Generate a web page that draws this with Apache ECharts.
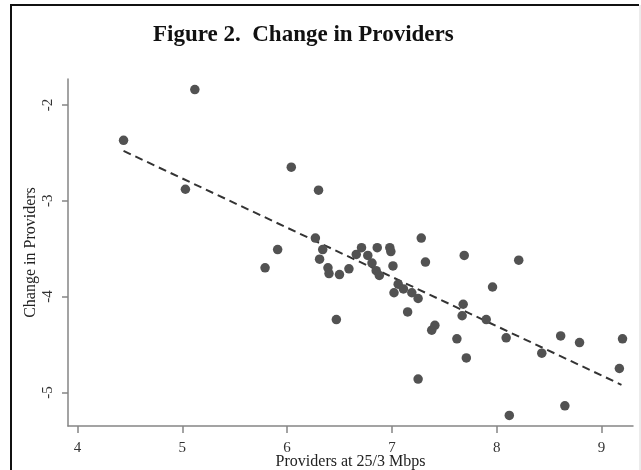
<!DOCTYPE html>
<html>
<head>
<meta charset="utf-8">
<script src="https://cdn.jsdelivr.net/npm/echarts@6/dist/echarts.min.js"></script>
<style>
  html, body { margin: 0; padding: 0; background: #fff; }
  #chart { width: 641px; height: 470px; }
</style>
</head>
<body>
<div id="chart"></div>
<script>
// providers at 25/3 Mbps (x) vs change in providers (y)
const providersX = [
  4.44, 5.12, 5.03, 6.04, 6.30, 5.91, 5.79, 6.27, 6.34, 6.31,
  6.39, 6.40, 6.50, 6.59, 6.47, 6.66, 6.71, 6.77, 6.81, 6.85,
  6.88, 6.86, 6.98, 6.99, 7.01, 7.28, 7.32, 7.69, 8.21, 7.06,
  7.02, 7.11, 7.19, 7.25, 7.15, 7.96, 7.68, 7.67, 7.90, 7.38,
  7.41, 7.62, 7.71, 7.25, 8.09, 8.43, 8.61, 8.79, 9.20, 9.17,
  8.65, 8.12
]
const changeY = [
  -2.37, -1.84, -2.88, -2.65, -2.89, -3.51, -3.70, -3.39, -3.51, -3.61,
  -3.70, -3.76, -3.77, -3.71, -4.24, -3.56, -3.49, -3.57, -3.65, -3.73,
  -3.78, -3.49, -3.49, -3.53, -3.68, -3.39, -3.64, -3.57, -3.62, -3.87,
  -3.96, -3.92, -3.96, -4.02, -4.16, -3.90, -4.08, -4.20, -4.24, -4.35,
  -4.30, -4.44, -4.64, -4.86, -4.43, -4.59, -4.41, -4.48, -4.44, -4.75,
  -5.14, -5.24
]
// fitted line end points
const fitX = [4.44, 9.19]
const fitY = [-2.48, -4.92]

const xTicks = [4, 5, 6, 7, 8, 9]
const yTicks = [-5, -4, -3, -2]

const serif = 'Liberation Serif'
const axisGray = '#858585'

let chart = echarts.init(document.getElementById('chart'))

let option = {
  animation: false,
  title: {
    text: 'Figure 2.  Change in Providers',
    left: 148,
    top: 19,
    textStyle: {
      fontFamily: serif,
      fontWeight: 'bold',
      fontSize: 23,
      color: '#111'
    }
  },
  grid: {
    left: 68,
    right: 8,
    top: 79,
    bottom: 44,
    outerBoundsMode: 'none'
  },
  xAxis: {
    type: 'value',
    min: 3.91,
    max: 9.30,
    name: 'Providers at 25/3 Mbps',
    nameLocation: 'middle',
    nameGap: 28,
    nameMoveOverlap: false,
    nameTextStyle: { fontFamily: serif, fontSize: 16, color: '#222' },
    axisLine: { lineStyle: { color: axisGray, width: 1.5 } },
    axisTick: {
      show: true,
      length: 7,
      customValues: xTicks,
      lineStyle: { color: axisGray, width: 1.5 }
    },
    axisLabel: {
      customValues: xTicks,
      margin: 15,
      fontFamily: serif,
      fontSize: 15,
      color: '#333'
    },
    splitLine: { show: false }
  },
  yAxis: {
    type: 'value',
    min: -5.35,
    max: -1.73,
    name: 'Change in Providers',
    nameLocation: 'middle',
    nameGap: 29,
    nameMoveOverlap: false,
    nameTextStyle: { fontFamily: serif, fontSize: 16, color: '#222' },
    axisLine: { show: true, lineStyle: { color: axisGray, width: 1.5 } },
    axisTick: {
      show: true,
      length: 6,
      customValues: yTicks,
      lineStyle: { color: axisGray, width: 1.5 }
    },
    axisLabel: {
      customValues: yTicks,
      rotate: 90,
      margin: 12,
      fontFamily: serif,
      fontSize: 15,
      color: '#333'
    },
    splitLine: { show: false }
  },
  series: [
    {
      type: 'scatter',
      symbolSize: 9.5,
      itemStyle: { color: '#525252', opacity: 1 },
      data: providersX.map((x, i) => [x, changeY[i]]),
      z: 3
    },
    {
      type: 'line',
      symbol: 'none',
      lineStyle: { color: '#333', width: 2, type: [8, 5] },
      data: fitX.map((x, i) => [x, fitY[i]]),
      z: 2
    }
  ],
  graphic: [
    {
      type: 'polyline',
      shape: { points: [[11, 472], [11, 5], [639, 5]] },
      style: { stroke: '#111', lineWidth: 2, fill: null }
    },
    {
      type: 'line',
      shape: { x1: 640, y1: 5, x2: 640, y2: 470 },
      style: { stroke: '#d8d8d8', lineWidth: 1 }
    }
  ]
}
chart.setOption(option)
</script>
</body>
</html>
